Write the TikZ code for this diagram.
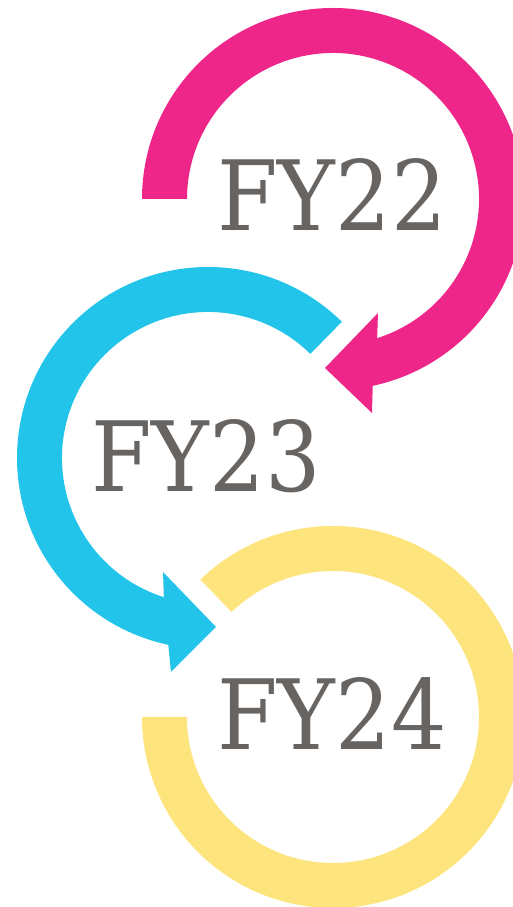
\documentclass[tikz,border=0pt]{standalone}
\usepackage{fontspec}
\newfontfamily\dvserif[FakeStretch=0.9]{DejaVu Serif}
\definecolor{pinkc}{HTML}{EE2689}
\definecolor{bluec}{HTML}{22C4EA}
\definecolor{yelc}{HTML}{FDE47D}
\definecolor{txtc}{HTML}{676462}
\begin{document}
\begin{tikzpicture}[x=1pt,y=1pt,
  lbl/.style={text=txtc,font=\dvserif\fontsize{97}{97}\selectfont,anchor=base,inner sep=0pt}]
\useasboundingbox (0,0) rectangle (513,907);
\coordinate (pc) at (333,708);
\coordinate (bc) at (208,449);
\coordinate (yc) at (333,190);
% pink arrow
\fill[pinkc] ([shift={(180:191pt)}]pc) arc[start angle=180,end angle=-78,radius=191pt]
  -- (372,494) -- (325,539) -- (378,594)
  -- ([shift={(-72.4:146pt)}]pc) arc[start angle=-72.4,end angle=180,radius=146pt] -- cycle;
% blue arrow
\fill[bluec] ([shift={(45.5:191pt)}]bc) arc[start angle=45.5,end angle=258,radius=191pt]
  -- (171,235) -- (216,280) -- (163,335)
  -- ([shift={(252.4:146pt)}]bc) arc[start angle=252.4,end angle=45.5,radius=146pt] -- cycle;
% yellow ring
\fill[yelc] ([shift={(134:191pt)}]yc) arc[start angle=134,end angle=-180,radius=191pt]
  -- ([shift={(180:146pt)}]yc) arc[start angle=-180,end angle=134,radius=146pt] -- cycle;
\node[lbl] (fy22) at (332,676) {FY22};
\node[lbl] (fy23) at (206,415) {FY23};
\node[lbl] (fy24) at (332,157) {FY24};
\end{tikzpicture}
\end{document}
